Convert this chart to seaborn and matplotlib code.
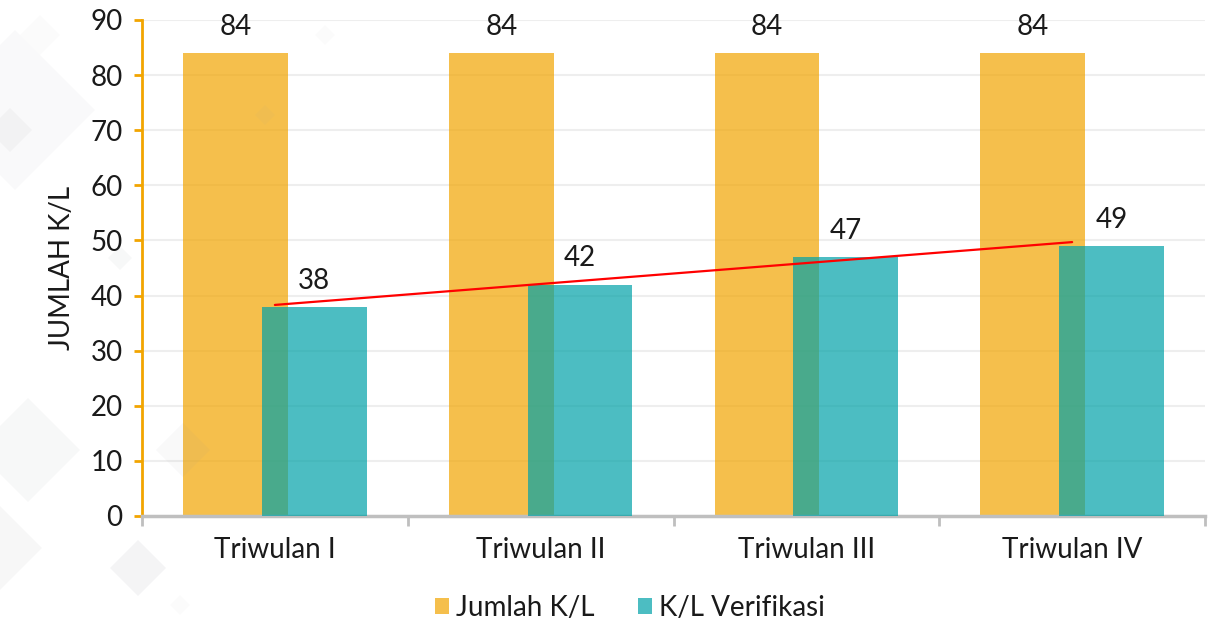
import numpy as np
import pandas as pd
import matplotlib
matplotlib.use("Agg")
import matplotlib.pyplot as plt
from matplotlib.patches import Polygon, Patch
import seaborn as sns

# ---- data ----
categories = ["Triwulan I", "Triwulan II", "Triwulan III", "Triwulan IV"]
jumlah_kl = [84, 84, 84, 84]
kl_verifikasi = [38, 42, 47, 49]
series_names = ["Jumlah K/L", "K/L Verifikasi"]
y_ticks = [0, 10, 20, 30, 40, 50, 60, 70, 80, 90]

sns.set_theme(style="white")
plt.rcParams["font.family"] = ["Lato", "DejaVu Sans"]

col_orange = "#F2A500"
col_teal = "#00A2A8"
text_col = "#1a1a1a"
FS = 20

fig = plt.figure(figsize=(12.09, 6.25), dpi=100)
fig.patch.set_facecolor("white")

# faint decorative diamonds in the background
def diamond(cx, cy, r, a):
    W, H = 1209.0, 625.0
    pts = [((cx - r) / W, 1 - cy / H), (cx / W, 1 - (cy - r) / H),
           ((cx + r) / W, 1 - cy / H), (cx / W, 1 - (cy + r) / H)]
    fig.patches.append(Polygon(pts, closed=True, transform=fig.transFigure,
                               facecolor="#9a9ca0", edgecolor="none", alpha=a, zorder=0))

diamond(15, 110, 80, 0.05)
diamond(10, 130, 22, 0.07)
diamond(40, 35, 20, 0.04)
diamond(28, 450, 52, 0.07)
diamond(0, 548, 42, 0.08)
diamond(138, 568, 28, 0.10)
diamond(183, 450, 27, 0.06)
diamond(120, 258, 12, 0.07)
diamond(265, 115, 10, 0.05)
diamond(325, 35, 10, 0.04)
diamond(180, 605, 10, 0.04)

ax = fig.add_axes([142 / 1209, 1 - 516 / 625, (1205 - 142) / 1209, (516 - 20) / 625])
ax.set_facecolor("none")

pos = np.arange(len(categories))
offset = 0.148
bw = 0.394

df1 = pd.DataFrame({"pos": pos - offset, "val": jumlah_kl})
df2 = pd.DataFrame({"pos": pos + offset, "val": kl_verifikasi})

sns.barplot(data=df1, x="pos", y="val", native_scale=True, width=bw,
            color=col_orange, alpha=0.7, saturation=1, linewidth=0, ax=ax, zorder=2)
sns.barplot(data=df2, x="pos", y="val", native_scale=True, width=bw,
            color=col_teal, alpha=0.7, saturation=1, linewidth=0, ax=ax, zorder=3)

# linear trend line for K/L Verifikasi
coef = np.polyfit(pos, kl_verifikasi, 1)
sns.lineplot(x=pos, y=np.polyval(coef, pos), color="#FF0000", linewidth=1.6, ax=ax, zorder=4)

# data labels
for p, v in zip(pos - offset, jumlah_kl):
    ax.annotate(str(v), (p, v), xytext=(0, 13), textcoords="offset points",
                ha="center", va="baseline", fontsize=FS, color=text_col)
for p, v in zip(pos + offset, kl_verifikasi):
    ax.annotate(str(v), (p, v), xytext=(0, 13), textcoords="offset points",
                ha="center", va="baseline", fontsize=FS, color=text_col)

ax.set_xlim(-0.5, len(categories) - 0.5)
ax.set_ylim(0, 90)
ax.set_yticks(y_ticks)
ax.set_yticklabels([str(t) for t in y_ticks], fontsize=FS, color=text_col)
ax.yaxis.grid(True, color="#EEEEEE", linewidth=1.5)
ax.set_axisbelow(True)

# x: boundary tick marks, labels at centres
ax.set_xticks(np.arange(-0.5, len(categories), 1.0))
ax.set_xticklabels([])
ax.set_xticks(pos, minor=True)
ax.set_xticklabels(categories, minor=True, fontsize=FS, color=text_col)
ax.tick_params(axis="x", which="major", length=7, width=2, color="#BFBFBF", direction="out", bottom=True)
ax.tick_params(axis="x", which="minor", length=0, pad=15)
ax.tick_params(axis="y", length=6, width=2, color=col_orange, direction="out", left=True, pad=8)

ax.set_xlabel("")
ax.set_ylabel("JUMLAH K/L", fontsize=FS, color=text_col, labelpad=11)

for s in ["top", "right"]:
    ax.spines[s].set_visible(False)
ax.spines["left"].set_color(col_orange)
ax.spines["left"].set_linewidth(2)
ax.spines["bottom"].set_color("#BFBFBF")
ax.spines["bottom"].set_linewidth(2.5)

handles = [Patch(facecolor=col_orange, alpha=0.7, edgecolor="none"),
           Patch(facecolor=col_teal, alpha=0.7, edgecolor="none")]
fig.legend(handles, series_names, loc="center", bbox_to_anchor=(0.521, 0.027), ncol=2,
           frameon=False, fontsize=20, handlelength=0.5, handleheight=0.5,
           handletextpad=0.25, columnspacing=1.55, labelcolor=text_col)

fig.savefig("out.png", dpi=100, facecolor="white")
